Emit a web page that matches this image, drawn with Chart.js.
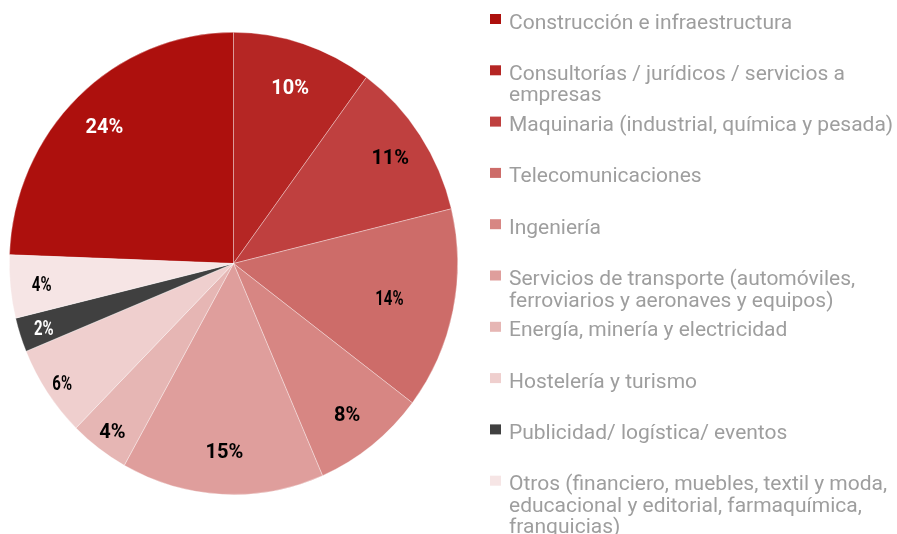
<!DOCTYPE html>
<html>
<head>
<meta charset="utf-8">
<script src="https://cdn.jsdelivr.net/npm/chart.js@4.4.0/dist/chart.umd.min.js"></script>
<style>
    html, body { margin: 0; padding: 0; background: #fff; }
    #wrap { width: 897px; height: 534px; position: relative; }
</style>
</head>
<body>
<div id="wrap"><canvas id="sectorChart"></canvas></div>
<script>
// categories (pre-split into the lines the legend shows)
const categories = [
    ['Construcción e infraestructura'],
    ['Consultorías / jurídicos / servicios a', 'empresas'],
    ['Maquinaria (industrial, química y pesada)'],
    ['Telecomunicaciones'],
    ['Ingeniería'],
    ['Servicios de transporte (automóviles,', 'ferroviarios y aeronaves y equipos)'],
    ['Energía, minería y electricidad'],
    ['Hostelería y turismo'],
    ['Publicidad/ logística/ eventos'],
    ['Otros (financiero, muebles, textil y moda,', 'educacional y editorial, farmaquímica,', 'franquicias)']
];
// share of companies, %
const shares = [24.4, 10.1, 11.1, 14.1, 8.2, 14.6, 4.3, 6.4, 2.4, 4.4];

const sliceColors = [
    '#AD100D', '#B52624', '#BF403F', '#CD6C69', '#D78683',
    '#DF9E9C', '#E6B6B4', '#EFCFCE', '#404040', '#F6E5E5'
];
// label placement / look, per slice
const labelRadius = [0.83, 0.81, 0.84, 0.71, 0.82, 0.81, 0.90, 0.92, 0.89, 0.86];
const narrowLabel = [false, false, false, true, false, false, false, true, true, true];

const total = shares.reduce((s, v) => s + v, 0);
const STRETCH_Y = 1.031; // original pie is a touch taller than wide

function isDark(hex) {
    const r = parseInt(hex.substr(1, 2), 16);
    const g = parseInt(hex.substr(3, 2), 16);
    const b = parseInt(hex.substr(5, 2), 16);
    return 0.299 * r + 0.587 * g + 0.114 * b < 90;
}

const stretchPie = {
    id: 'stretchPie',
    beforeDatasetsDraw(chart) {
        const arc = chart.getDatasetMeta(0).data[0];
        const ctx = chart.ctx;
        ctx.save();
        ctx.translate(arc.x, arc.y);
        ctx.scale(1, STRETCH_Y);
        ctx.translate(-arc.x, -arc.y);
    },
    afterDatasetsDraw(chart) {
        chart.ctx.restore();
    }
};

const sliceLabels = {
    id: 'sliceLabels',
    afterDatasetsDraw(chart) {
        const ctx = chart.ctx;
        const meta = chart.getDatasetMeta(0);
        ctx.save();
        ctx.font = 'bold 20px Roboto';
        ctx.textAlign = 'center';
        ctx.textBaseline = 'middle';
        meta.data.forEach((arc, i) => {
            const p = arc.getProps(['x', 'y', 'startAngle', 'endAngle', 'outerRadius']);
            const mid = (p.startAngle + p.endAngle) / 2;
            const k = labelRadius[i];
            const x = p.x + Math.cos(mid) * p.outerRadius * k;
            const y = p.y + Math.sin(mid) * p.outerRadius * k * STRETCH_Y;
            ctx.fillStyle = isDark(sliceColors[i]) ? '#ffffff' : '#000000';
            ctx.save();
            ctx.translate(x, y);
            if (narrowLabel[i]) ctx.scale(0.75, 1);
            ctx.fillText(Math.round(shares[i]) + '%', 0, 3);
            ctx.restore();
        });
        ctx.restore();
    }
};

const sideLegend = {
    id: 'sideLegend',
    afterDraw(chart) {
        const ctx = chart.ctx;
        const colors = chart.data.datasets[0].backgroundColor;
        ctx.save();
        ctx.font = '21px Roboto';
        ctx.textAlign = 'left';
        ctx.textBaseline = 'alphabetic';
        chart.data.labels.forEach((lines, i) => {
            const top = 14 + i * 51.3;
            ctx.fillStyle = colors[i];
            ctx.fillRect(490, top, 11, 10);
            ctx.fillStyle = '#9e9e9e';
            lines.forEach((line, j) => {
                ctx.fillText(line, 509, top + 14.5 + j * 21.5);
            });
        });
        ctx.restore();
    }
};

new Chart(document.getElementById('sectorChart'), {
    type: 'pie',
    data: {
        labels: categories,
        datasets: [{
            data: shares,
            backgroundColor: sliceColors,
            borderColor: 'rgba(255,255,255,0.55)',
            borderWidth: 0.6
        }]
    },
    options: {
        responsive: true,
        maintainAspectRatio: false,
        animation: false,
        rotation: -shares[0] / total * 360,
        layout: { padding: { left: 9, right: 439, top: 39, bottom: 46 } },
        plugins: {
            legend: { display: false },
            tooltip: { enabled: false }
        }
    },
    plugins: [stretchPie, sliceLabels, sideLegend]
});
</script>
</body>
</html>
